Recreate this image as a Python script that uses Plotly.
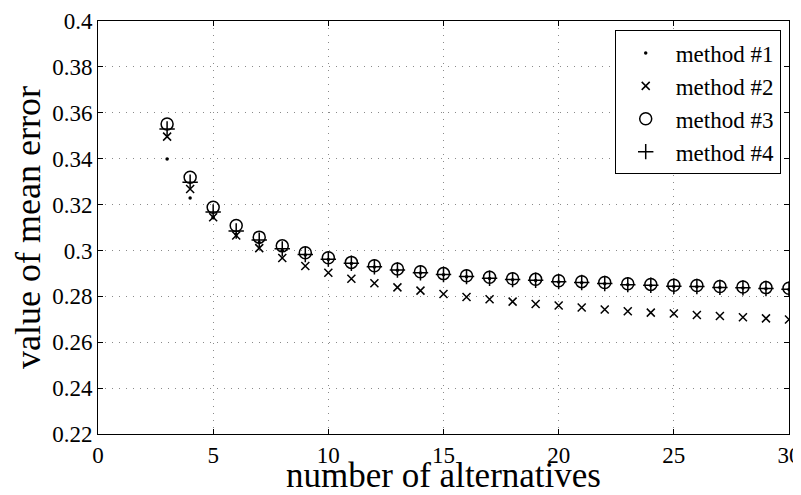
import plotly.graph_objects as go

alternatives = list(range(3, 31))

method1 = [0.3399, 0.3229, 0.3145, 0.3070, 0.3035, 0.3000, 0.2980, 0.2960,
           0.2943, 0.2928, 0.2914, 0.2902, 0.2894, 0.2885, 0.2878, 0.2872,
           0.2869, 0.2863, 0.2859, 0.2855, 0.2850, 0.2847, 0.2843, 0.2842,
           0.2838, 0.2836, 0.2833, 0.2830]
method2 = [0.3496, 0.3268, 0.3145, 0.3065, 0.3010, 0.2967, 0.2932, 0.2903,
           0.2877, 0.2857, 0.2839, 0.2825, 0.2810, 0.2797, 0.2787, 0.2777,
           0.2767, 0.2760, 0.2751, 0.2743, 0.2735, 0.2729, 0.2725, 0.2719,
           0.2714, 0.2709, 0.2704, 0.2699]
method3 = [0.3551, 0.3319, 0.3188, 0.3109, 0.3058, 0.3020, 0.2990, 0.2968,
           0.2948, 0.2933, 0.2919, 0.2907, 0.2899, 0.2890, 0.2883, 0.2877,
           0.2874, 0.2868, 0.2864, 0.2860, 0.2855, 0.2852, 0.2848, 0.2847,
           0.2843, 0.2841, 0.2838, 0.2835]
method4 = [0.3529, 0.3297, 0.3168, 0.3085, 0.3045, 0.3007, 0.2982, 0.2962,
           0.2944, 0.2929, 0.2915, 0.2903, 0.2895, 0.2886, 0.2879, 0.2873,
           0.2870, 0.2864, 0.2860, 0.2856, 0.2851, 0.2848, 0.2844, 0.2843,
           0.2839, 0.2837, 0.2834, 0.2831]

x_ticks = [0, 5, 10, 15, 20, 25, 30]
y_ticks = [0.22, 0.24, 0.26, 0.28, 0.3, 0.32, 0.34, 0.36, 0.38, 0.4]
y_ticklabels = ["0.22", "0.24", "0.26", "0.28", "0.3", "0.32", "0.34", "0.36", "0.38", "0.4"]

FONT = "Liberation Serif"

fig = go.Figure()
fig.add_trace(go.Scatter(x=alternatives, y=method1, mode="markers", name="method #1",
                         marker=dict(symbol="circle", size=3.5, color="black")))
fig.add_trace(go.Scatter(x=alternatives, y=method2, mode="markers", name="method #2",
                         marker=dict(symbol="x-thin", size=8, color="black",
                                     line=dict(width=1.5, color="black"))))
fig.add_trace(go.Scatter(x=alternatives, y=method3, mode="markers", name="method #3",
                         marker=dict(symbol="circle-open", size=12, color="black",
                                     line=dict(width=1.5, color="black"))))
fig.add_trace(go.Scatter(x=alternatives, y=method4, mode="markers", name="method #4",
                         marker=dict(symbol="cross-thin", size=11, color="black",
                                     line=dict(width=1.5, color="black"))))

axis_common = dict(
    showline=True, linecolor="black", linewidth=1, mirror="ticks",
    ticks="inside", ticklen=5, tickcolor="black",
    showgrid=True, gridcolor="#8a8a8a", griddash="1px,6px", gridwidth=1,
    zeroline=False, automargin=False,
    tickfont=dict(family=FONT, size=23, color="black"),
)

fig.update_xaxes(range=[0, 30], tickvals=x_ticks,
                 title=dict(text="number of alternatives", standoff=5,
                            font=dict(family=FONT, size=35, color="black")),
                 **axis_common)
fig.update_yaxes(range=[0.22, 0.4], tickvals=y_ticks, ticktext=y_ticklabels,
                 title=dict(text="value of mean error", standoff=4,
                            font=dict(family=FONT, size=36, color="black")),
                 **axis_common)

fig.update_layout(
    width=793, height=487,
    margin=dict(l=90, r=12, t=13, b=61),
    plot_bgcolor="white", paper_bgcolor="white",
    font=dict(family=FONT, color="black"),
    legend=dict(x=0.988, y=0.977, xanchor="right", yanchor="top",
                bgcolor="white", bordercolor="black", borderwidth=1,
                font=dict(family=FONT, size=23, color="black"),
                tracegroupgap=0, itemsizing="trace", itemwidth=50),
    showlegend=True,
)

fig.write_html("out.html")
